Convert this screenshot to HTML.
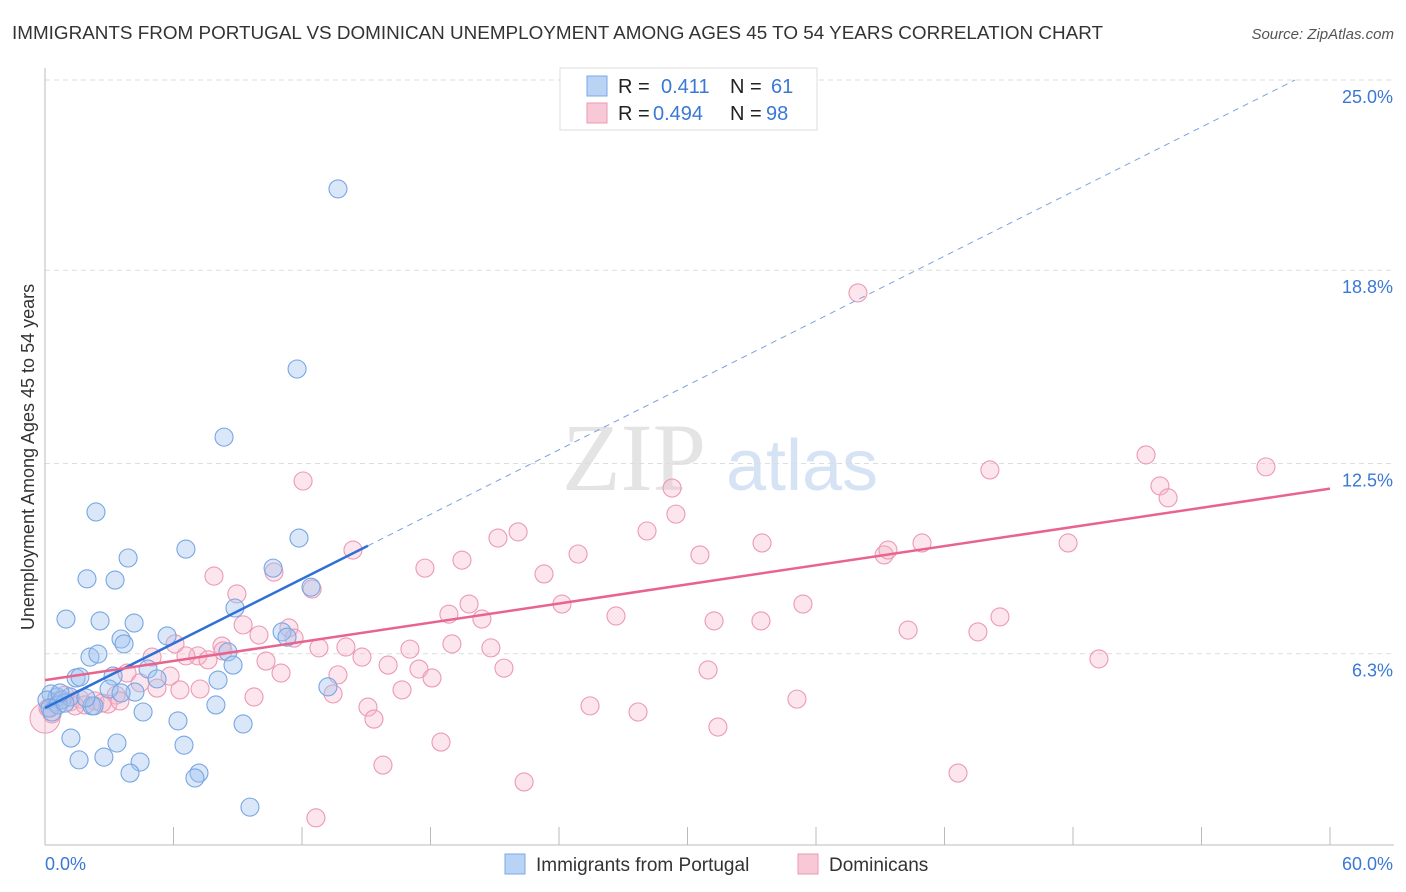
<!DOCTYPE html>
<html><head><meta charset="utf-8"><style>
body{margin:0;background:#fff;font-family:"Liberation Sans",sans-serif;}
#wrap{position:relative;width:1406px;height:892px;overflow:hidden;}
</style></head><body>
<div id="wrap">
<svg id="svg" width="1406" height="892" xmlns="http://www.w3.org/2000/svg">
<text x="12" y="39" font-size="18" fill="#333" textLength="1091" lengthAdjust="spacingAndGlyphs">IMMIGRANTS FROM PORTUGAL VS DOMINICAN UNEMPLOYMENT AMONG AGES 45 TO 54 YEARS CORRELATION CHART</text>
<text x="1394" y="39" font-size="15" fill="#555" font-style="italic" text-anchor="end">Source: ZipAtlas.com</text>
<text x="634" y="490" font-size="96" fill="#e4e4e4" font-family="Liberation Serif" text-anchor="middle">ZIP</text>
<text x="802" y="490" font-size="72" fill="#d6e3f5" text-anchor="middle">atlas</text>
<text transform="translate(34,457) rotate(-90)" font-size="18" fill="#333" text-anchor="middle">Unemployment Among Ages 45 to 54 years</text>
<g id="grid"></g><g id="pts"></g><g id="lines"></g>
<rect x="560" y="68" width="257" height="62" fill="#fff" stroke="#ddd"/>
<rect x="587" y="76" width="20" height="20" fill="#b9d3f5" stroke="#7aa7e6"/>
<rect x="587" y="103" width="20" height="20" fill="#f9c8d6" stroke="#eb9ab4"/>
<g font-size="20">
<text x="618" y="93" fill="#222">R =</text><text x="661" y="93" fill="#3a78d6">0.411</text>
<text x="730" y="93" fill="#222">N =</text><text x="771" y="93" fill="#3a78d6">61</text>
<text x="618" y="120" fill="#222">R =</text><text x="653" y="120" fill="#3a78d6">0.494</text>
<text x="730" y="120" fill="#222">N =</text><text x="766" y="120" fill="#3a78d6">98</text>
</g>
<rect x="505" y="854" width="20" height="20" fill="#b9d3f5" stroke="#7aa7e6"/>
<text x="536" y="871" font-size="19" fill="#333">Immigrants from Portugal</text>
<rect x="798" y="854" width="20" height="20" fill="#f9c8d6" stroke="#eb9ab4"/>
<text x="829" y="871" font-size="19" fill="#333">Dominicans</text>
<text x="45" y="870" font-size="18" fill="#3a78d6">0.0%</text>
<text x="1393" y="870" font-size="18" fill="#3a78d6" text-anchor="end">60.0%</text>
</svg></div>
<script>
const yTicks=[25,18.8,12.5,6.3];
const yTickLabels=["25.0%","18.8%","12.5%","6.3%"];
const xTickVals=[0,6,12,18,24,30,36,42,48,54,60];
const bluePx=[[338,189],[297,369],[224,437],[96,512],[186,549],[299,538],[128,558],[273,568],[87,579],[115,580],[311,587],[235,608],[66,619],[100,621],[134,623],[167,636],[121,639],[124,644],[282,632],[287,637],[228,652],[90,657],[98,654],[148,669],[233,665],[76,678],[80,677],[113,676],[157,679],[218,680],[109,689],[135,692],[328,687],[51,694],[57,697],[47,700],[62,700],[70,697],[50,708],[58,705],[92,706],[216,705],[143,712],[178,721],[71,738],[117,743],[184,745],[243,724],[79,760],[104,757],[140,762],[130,773],[199,773],[195,778],[250,807],[94,706],[86,698],[52,712],[65,703],[60,693],[121,693]];
const pinkPx=[[858,293],[1146,455],[1266,467],[990,470],[303,481],[672,488],[1160,486],[1168,498],[676,514],[518,532],[498,538],[647,531],[353,550],[578,554],[884,555],[762,543],[1068,543],[922,543],[888,550],[700,555],[462,560],[425,568],[214,576],[544,574],[274,572],[312,589],[237,594],[469,604],[449,614],[482,619],[562,604],[803,604],[616,616],[714,621],[761,621],[1000,617],[243,625],[289,628],[259,635],[908,630],[978,632],[294,638],[452,644],[346,647],[491,648],[222,646],[319,648],[410,649],[223,651],[175,644],[198,656],[152,657],[186,656],[208,660],[362,657],[266,661],[388,665],[504,668],[419,669],[708,670],[1099,659],[281,673],[127,673],[338,675],[170,676],[432,678],[140,683],[157,688],[180,690],[200,689],[402,690],[333,694],[254,697],[797,699],[116,695],[80,699],[95,701],[108,704],[120,701],[70,702],[590,706],[368,707],[638,712],[374,719],[718,727],[441,742],[383,765],[524,782],[958,773],[316,818],[52,714],[48,708],[60,700],[85,705],[102,703],[65,695],[56,702],[75,706]];
// convert picture readings to data values (percent)
const blueX=bluePx.map(p=>+((p[0]-45)/1285*60).toFixed(2));
const blueY=bluePx.map(p=>+((847-p[1])/767*25).toFixed(2));
const pinkX=pinkPx.map(p=>+((p[0]-45)/1285*60).toFixed(2));
const pinkY=pinkPx.map(p=>+((847-p[1])/767*25).toFixed(2));
const blueFit=[4.53,0.3507];
const pinkFit=[5.44,0.104];
const blueSolidEnd=15.08;

const X=v=>45+v/60*1285, Y=v=>847-v/25*767;
const NS="http://www.w3.org/2000/svg";
function mk(t,a,p){const e=document.createElementNS(NS,t);for(const k in a)e.setAttribute(k,a[k]);p.appendChild(e);return e;}
const grid=document.getElementById('grid');
yTicks.forEach((t,i)=>{
 const l=mk('line',{x1:45,x2:1394,y1:Y(t),y2:Y(t),stroke:'#ddd','stroke-dasharray':'5,4'},grid);
 
 
 const tx=mk('text',{x:1393,y:Y(t)+23,'font-size':18,fill:'#3a78d6','text-anchor':'end'},grid);
 tx.textContent=yTickLabels[i];
 
 
});
const ax=mk('line',{x1:45,x2:45,y1:68,y2:845,stroke:'#bbb'},grid);


const bx=mk('line',{x1:45,x2:1394,y1:845,y2:845,stroke:'#bbb'},grid);


xTickVals.forEach(v=>{
 const t=mk('line',{x1:X(v),x2:X(v),y1:827,y2:845,stroke:'#bbb'},grid);
 
 
});
const pts=document.getElementById('pts');
const big=mk('circle',{cx:X(0),cy:Y(4.2),r:15,fill:'rgba(245,180,200,0.35)',stroke:'#eb9ab4'},pts);


pinkX.forEach((x,i)=>{
 const c=mk('circle',{cx:X(x),cy:Y(pinkY[i]),r:9,fill:'rgba(245,180,200,0.35)',stroke:'#eb9ab4','stroke-width':1.1},pts);
 
 
});
blueX.forEach((x,i)=>{
 const c=mk('circle',{cx:X(x),cy:Y(blueY[i]),r:9,fill:'rgba(160,196,240,0.4)',stroke:'#78a6e2','stroke-width':1.1},pts);
 
 
});
const lines=document.getElementById('lines');
const bl=mk('line',{x1:X(0),y1:Y(blueFit[0]),x2:X(blueSolidEnd),y2:Y(blueFit[0]+blueFit[1]*blueSolidEnd),stroke:'#2f6fd6','stroke-width':2.5},lines);


const xe=(25-blueFit[0])/blueFit[1];
const bd=mk('line',{x1:X(blueSolidEnd),y1:Y(blueFit[0]+blueFit[1]*blueSolidEnd),x2:X(xe),y2:Y(25),stroke:'#7aa3e0','stroke-width':1,'stroke-dasharray':'6,5'},lines);


const pl=mk('line',{x1:X(0),y1:Y(pinkFit[0]),x2:X(60),y2:Y(pinkFit[0]+pinkFit[1]*60),stroke:'#e8648f','stroke-width':2.5},lines);


</script>
</body></html>
